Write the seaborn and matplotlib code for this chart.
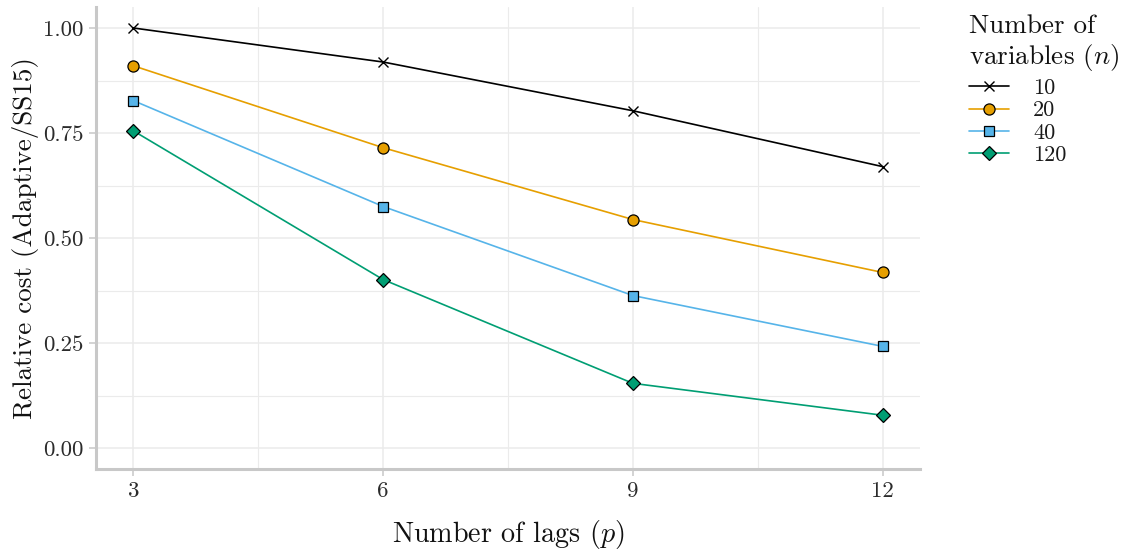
import numpy as np
import pandas as pd
import matplotlib
matplotlib.use("Agg")
import matplotlib.pyplot as plt
import seaborn as sns

lags = [3, 6, 9, 12]
n_vars = [10, 20, 40, 120]
cost_n10 = [1.000, 0.919, 0.803, 0.670]
cost_n20 = [0.910, 0.715, 0.544, 0.418]
cost_n40 = [0.827, 0.575, 0.363, 0.242]
cost_n120 = [0.755, 0.401, 0.154, 0.078]
y_ticks = [0.0, 0.25, 0.5, 0.75, 1.0]
y_tick_labels = ["0.00", "0.25", "0.50", "0.75", "1.00"]
x_tick_labels = ["3", "6", "9", "12"]

series = {10: cost_n10, 20: cost_n20, 40: cost_n40, 120: cost_n120}
rows = []
for n, vals in series.items():
    for p, v in zip(lags, vals):
        rows.append({"p": p, "n": str(n), "cost": v})
df = pd.DataFrame(rows)

sns.set_theme(style="white")
plt.rcParams["font.family"] = ["cmr10"]
plt.rcParams["mathtext.fontset"] = "cm"
plt.rcParams["axes.formatter.use_mathtext"] = True
plt.rcParams["axes.unicode_minus"] = False

palette = {"10": "#000000", "20": "#E69F00", "40": "#56B4E9", "120": "#009E73"}
markers = {"10": "x", "20": "o", "40": "s", "120": "D"}
msizes = {"10": 7.5, "20": 8.0, "40": 6.8, "120": 7.2}

fig = plt.figure(figsize=(11.24, 5.5), dpi=100)
ax = fig.add_axes([96 / 1124, 1 - 469 / 550, (920 - 96) / 1124, (469 - 7) / 550])

for key in ["10", "20", "40", "120"]:
    sub = df[df["n"] == key]
    sns.lineplot(data=sub, x="p", y="cost", color=palette[key], marker=markers[key],
                 markersize=msizes[key], markeredgecolor="black",
                 markeredgewidth=1.0 if key == "10" else 0.9,
                 linewidth=1.2, label=key, ax=ax, legend=False)

ax.set_xlim(2.55, 12.45)
ax.set_ylim(-0.05, 1.05)
ax.set_xticks(lags)
ax.set_xticklabels(x_tick_labels)
ax.set_yticks(y_ticks)
ax.set_yticklabels(y_tick_labels)
ax.set_xticks([4.5, 7.5, 10.5], minor=True)
ax.set_yticks([0.125, 0.375, 0.625, 0.875], minor=True)
ax.grid(True, which="major", color="#ebebeb", linewidth=1.1)
ax.grid(True, which="minor", color="#ebebeb", linewidth=0.8)
ax.set_axisbelow(True)
for side in ["top", "right"]:
    ax.spines[side].set_visible(False)
for side in ["left", "bottom"]:
    ax.spines[side].set_color("#c8c8c8")
    ax.spines[side].set_linewidth(2.2)
ax.tick_params(axis="both", which="major", length=5, width=1.1, color="#c8c8c8",
               labelsize=16.5, labelcolor="#2b2b2b", pad=4, left=True, bottom=True)
ax.tick_params(axis="both", which="minor", length=0)

ax.set_xlabel("Number of lags ($p$)", fontsize=20.3, labelpad=12, color="#111111")
ax.set_ylabel("Relative cost (Adaptive/SS15)", fontsize=19.5, labelpad=3, color="#111111")

handles = [ln for ln in ax.lines if ln.get_label() in palette]
labels = [ln.get_label() for ln in handles]
leg = fig.legend(handles, labels, title="Number of\nvariables ($n$)", loc="upper left",
                 bbox_to_anchor=(960 / 1124, 1 - 5 / 550), frameon=False, fontsize=16,
                 title_fontsize=19.5, handlelength=1.8, handletextpad=1.1, labelspacing=0.12,
                 borderaxespad=0, labelcolor="#1a1a1a")
leg.get_title().set_color("#111111")
leg._legend_box.align = "left"
leg._legend_box.sep = 4

fig.savefig("out.png", dpi=100)
